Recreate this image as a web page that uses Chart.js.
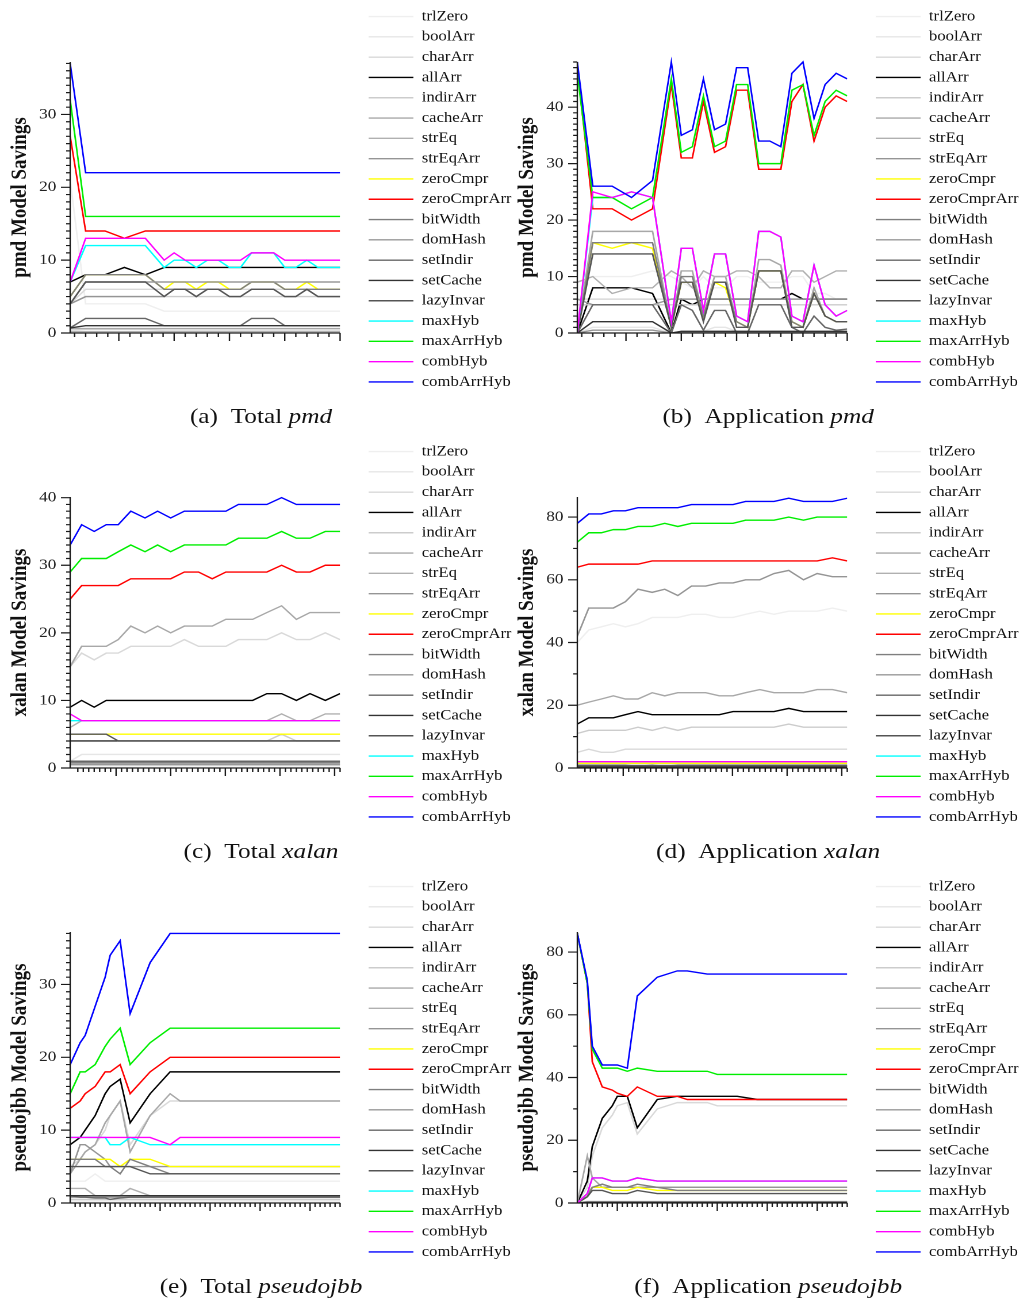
<!DOCTYPE html>
<html>
<head>
<meta charset="utf-8">
<script src="https://cdn.jsdelivr.net/npm/chart.js@4.4.1/dist/chart.umd.min.js"></script>
<style>
  html, body { margin: 0; padding: 0; background: #fff; overflow: hidden; }
  /* the whole figure is a bit wider than tall, so draw narrow and stretch */
  #page { position: relative; width: 892px; height: 1305px; transform: scaleX(1.15); transform-origin: 0 0; }
  .panel { position: absolute; width: 470px; height: 435px; }
  .panel canvas { position: absolute; left: 0; top: 0; }
  .cap { position: absolute; left: 0; width: 454px; top: 404px; text-align: center;
         font: 22px "Liberation Serif", serif; line-height: 24px; color: #111; }
</style>
</head>
<body>
<div id="page"></div>
<script>
// series, in legend order
const seriesNames = ['trlZero', 'boolArr', 'charArr', 'allArr', 'indirArr', 'cacheArr', 'strEq', 'strEqArr',
  'zeroCmpr', 'zeroCmprArr', 'bitWidth', 'domHash', 'setIndir', 'setCache', 'lazyInvar',
  'maxHyb', 'maxArrHyb', 'combHyb', 'combArrHyb'];
const seriesColors = ['#efefef', '#e6e6e6', '#d9d9d9', '#000000', '#cccccc', '#a8a8a8', '#b0b0b0', '#959595',
  '#ffff00', '#ff0000', '#7f7f7f', '#999999', '#666666', '#333333', '#555555',
  '#00ffff', '#00ee00', '#ff00ff', '#0000ff'];

// x positions of the samples
const pmdX = [0.6, 2, 3.75, 5.5, 7.4, 9.1, 10, 11, 12, 13, 14, 15, 16, 17, 18, 19, 20, 21, 22, 23, 24, 25];
const xalanX = [1.6, 3.7, 6.0, 8.2, 10.4, 12.7, 15.3, 17.6, 20.0, 22.5, 25.1, 27.6, 30.1, 32.4, 35.0, 37.6, 40.3, 43.0, 45.5, 48.3, 51.0];
const pseudojbbX = [2, 4, 5, 7, 9, 10, 12, 14, 18, 22, 24, 28, 30, 34, 38, 56];

const pmdTotal = [
  [21, 4, 4, 4, 4, 3, 3, 3, 3, 3, 3, 3, 3, 3, 3, 3, 3, 3, 3, 3, 3, 3],
  [0.3, 0.5, 0.5, 0.5, 0.5, 0.3, 0.3, 0.3, 0.3, 0.3, 0.3, 0.3, 0.3, 0.3, 0.3, 0.3, 0.3, 0.3, 0.3, 0.3, 0.3, 0.3],
  [4, 6, 6, 6, 6, 6, 6, 6, 6, 6, 6, 6, 6, 6, 6, 6, 6, 6, 6, 6, 6, 6],
  [7, 8, 8, 9, 8, 9, 9, 9, 9, 9, 9, 9, 9, 9, 9, 9, 9, 9, 9, 9, 9, 9],
  [4, 5, 5, 5, 5, 5, 5, 5, 5, 5, 5, 5, 5, 5, 5, 5, 5, 5, 5, 5, 5, 5],
  [0.6, 0.6, 0.6, 0.6, 0.6, 0.6, 0.6, 0.6, 0.6, 0.6, 0.6, 0.6, 0.6, 0.6, 0.6, 0.6, 0.6, 0.6, 0.6, 0.6, 0.6, 0.6],
  [0.2, 0.2, 0.2, 0.2, 0.2, 0.2, 0.2, 0.2, 0.2, 0.2, 0.2, 0.2, 0.2, 0.2, 0.2, 0.2, 0.2, 0.2, 0.2, 0.2, 0.2, 0.2],
  [4, 5, 5, 5, 5, 5, 6, 6, 5, 6, 6, 5, 5, 6, 6, 6, 5, 5, 6, 5, 5, 5],
  [5, 8, 8, 8, 8, 6, 7, 7, 6, 7, 7, 6, 6, 7, 7, 7, 6, 6, 7, 6, 6, 6],
  [27, 14, 14, 13, 14, 14, 14, 14, 14, 14, 14, 14, 14, 14, 14, 14, 14, 14, 14, 14, 14, 14],
  [5, 8, 8, 8, 8, 6, 6, 6, 6, 6, 6, 6, 6, 7, 7, 7, 6, 6, 6, 6, 6, 6],
  [4, 7, 7, 7, 7, 7, 7, 7, 7, 7, 7, 7, 7, 7, 7, 7, 7, 7, 7, 7, 7, 7],
  [0.7, 2, 2, 2, 2, 1, 1, 1, 1, 1, 1, 1, 1, 2, 2, 2, 1, 1, 1, 1, 1, 1],
  [0.7, 1, 1, 1, 1, 1, 1, 1, 1, 1, 1, 1, 1, 1, 1, 1, 1, 1, 1, 1, 1, 1],
  [4, 7, 7, 7, 7, 5, 6, 6, 5, 6, 6, 5, 5, 6, 6, 6, 5, 5, 6, 5, 5, 5],
  [7, 12, 12, 12, 12, 9, 10, 10, 9, 10, 10, 9, 9, 11, 11, 11, 9, 9, 10, 9, 9, 9],
  [32, 16, 16, 16, 16, 16, 16, 16, 16, 16, 16, 16, 16, 16, 16, 16, 16, 16, 16, 16, 16, 16],
  [7, 13, 13, 13, 13, 10, 11, 10, 10, 10, 10, 10, 10, 11, 11, 11, 10, 10, 10, 10, 10, 10],
  [37, 22, 22, 22, 22, 22, 22, 22, 22, 22, 22, 22, 22, 22, 22, 22, 22, 22, 22, 22, 22, 22]
];

const pmdApp = [
  [9, 10, 10, 10, 11, 10, 9, 8, 10, 8, 8, 10, 10, 9, 9, 9, 10, 10, 7, 7, 6, 6],
  [0, 1, 1, 1, 1, 0, 0.3, 0.3, 0.3, 1, 1, 0.3, 0.3, 0.3, 0.3, 0.3, 0.3, 0.3, 0.3, 0.3, 0.3, 0.3],
  [6, 6, 6, 6, 6, 6, 6, 6, 6, 6, 6, 6, 6, 6, 6, 6, 6, 6, 6, 6, 6, 6],
  [0, 8, 8, 8, 7, 0, 6, 5, 6, 6, 6, 6, 6, 6, 6, 6, 7, 6, 6, 6, 6, 6],
  [5, 5, 5, 5, 5, 5, 5, 5, 5, 5, 5, 5, 5, 5, 5, 5, 5, 5, 5, 5, 5, 5],
  [0, 18, 18, 18, 18, 1, 11, 11, 3, 10, 10, 2, 1, 13, 13, 12, 2, 1, 8, 3, 2, 2],
  [9, 10, 7, 8, 8, 11, 10, 8, 11, 10, 10, 11, 11, 10, 8, 8, 11, 11, 9, 10, 11, 11],
  [0, 0.5, 0.5, 0.5, 0.5, 0, 0.2, 0.2, 0.2, 0.2, 0.2, 0.2, 0.2, 0.2, 0.2, 0.2, 0.2, 0.2, 0.2, 0.2, 0.2, 0.2],
  [0, 16, 15, 16, 15, 1, 9, 9, 3, 9, 8, 2, 1, 11, 11, 11, 2, 1, 7, 3, 2, 2],
  [47, 22, 22, 20, 22, 44, 31, 31, 41, 32, 33, 43, 43, 29, 29, 29, 41, 44, 34, 40, 42, 41],
  [0, 16, 16, 16, 16, 1, 10, 10, 3, 9, 9, 2, 1, 11, 11, 11, 2, 1, 7, 3, 2, 2],
  [6, 5, 5, 5, 5, 6, 6, 6, 6, 6, 6, 6, 6, 6, 6, 6, 6, 6, 6, 6, 6, 6],
  [0, 5, 5, 5, 5, 0, 5, 4, 0.5, 4, 4, 0, 0, 5, 5, 5, 1, 0, 3, 1, 0.5, 0.7],
  [0, 2, 2, 2, 2, 0, 0.3, 0.3, 0.3, 0.3, 0.3, 0.3, 0.3, 0.3, 0.3, 0.3, 0.3, 0.3, 0.3, 0.3, 0.3, 0.3],
  [0, 14, 14, 14, 14, 1, 9, 9, 2, 9, 9, 1, 1, 11, 11, 11, 1, 1, 7, 3, 2, 2],
  [0, 24, 24, 25, 24, 2, 15, 15, 4, 14, 14, 3, 2, 18, 18, 17, 3, 2, 12, 5, 3, 4],
  [46, 24, 24, 22, 24, 45, 32, 33, 42, 33, 34, 44, 44, 30, 30, 30, 43, 44, 35, 41, 43, 42],
  [0, 25, 24, 25, 24, 2, 15, 15, 4, 14, 14, 3, 2, 18, 18, 17, 3, 2, 12, 5, 3, 4],
  [48, 26, 26, 24, 27, 48, 35, 36, 45, 36, 37, 47, 47, 34, 34, 33, 46, 48, 38, 44, 46, 45]
];

const xalanTotal = [
  [0.3, 0.3, 0.3, 0.3, 0.3, 0.3, 0.3, 0.3, 0.3, 0.3, 0.3, 0.3, 0.3, 0.3, 0.3, 0.3, 0.3, 0.3, 0.3, 0.3, 0.3],
  [1, 2, 2, 2, 2, 2, 2, 2, 2, 2, 2, 2, 2, 2, 2, 2, 2, 2, 2, 2, 2],
  [15, 17, 16, 17, 17, 18, 18, 18, 18, 19, 18, 18, 18, 19, 19, 19, 20, 19, 19, 20, 19],
  [9, 10, 9, 10, 10, 10, 10, 10, 10, 10, 10, 10, 10, 10, 10, 11, 11, 10, 11, 10, 11],
  [4, 4, 4, 4, 4, 4, 4, 4, 4, 4, 4, 4, 4, 4, 4, 4, 5, 4, 4, 4, 4],
  [15, 18, 18, 18, 19, 21, 20, 21, 20, 21, 21, 21, 22, 22, 22, 23, 24, 22, 23, 23, 23],
  [6, 7, 7, 7, 7, 7, 7, 7, 7, 7, 7, 7, 7, 7, 7, 7, 8, 7, 7, 8, 8],
  [0.5, 0.5, 0.5, 0.5, 0.5, 0.5, 0.5, 0.5, 0.5, 0.5, 0.5, 0.5, 0.5, 0.5, 0.5, 0.5, 0.5, 0.5, 0.5, 0.5, 0.5],
  [5, 5, 5, 5, 5, 5, 5, 5, 5, 5, 5, 5, 5, 5, 5, 5, 5, 5, 5, 5, 5],
  [25, 27, 27, 27, 27, 28, 28, 28, 28, 29, 29, 28, 29, 29, 29, 29, 30, 29, 29, 30, 30],
  [0.8, 0.8, 0.8, 0.8, 0.8, 0.8, 0.8, 0.8, 0.8, 0.8, 0.8, 0.8, 0.8, 0.8, 0.8, 0.8, 0.8, 0.8, 0.8, 0.8, 0.8],
  [0.6, 0.6, 0.6, 0.6, 0.6, 0.6, 0.6, 0.6, 0.6, 0.6, 0.6, 0.6, 0.6, 0.6, 0.6, 0.6, 0.6, 0.6, 0.6, 0.6, 0.6],
  [1, 1, 1, 1, 1, 1, 1, 1, 1, 1, 1, 1, 1, 1, 1, 1, 1, 1, 1, 1, 1],
  [4, 4, 4, 4, 4, 4, 4, 4, 4, 4, 4, 4, 4, 4, 4, 4, 4, 4, 4, 4, 4],
  [5, 5, 5, 5, 4, 4, 4, 4, 4, 4, 4, 4, 4, 4, 4, 4, 4, 4, 4, 4, 4],
  [7, 7, 7, 7, 7, 7, 7, 7, 7, 7, 7, 7, 7, 7, 7, 7, 7, 7, 7, 7, 7],
  [29, 31, 31, 31, 32, 33, 32, 33, 32, 33, 33, 33, 33, 34, 34, 34, 35, 34, 34, 35, 35],
  [8, 7, 7, 7, 7, 7, 7, 7, 7, 7, 7, 7, 7, 7, 7, 7, 7, 7, 7, 7, 7],
  [33, 36, 35, 36, 36, 38, 37, 38, 37, 38, 38, 38, 38, 39, 39, 39, 40, 39, 39, 39, 39]
];

const xalanApp = [
  [40, 44, 45, 46, 45, 46, 48, 48, 48, 49, 49, 48, 48, 49, 50, 49, 50, 50, 50, 51, 50],
  [0.3, 0.3, 0.3, 0.3, 0.3, 0.3, 0.3, 0.3, 0.3, 0.3, 0.3, 0.3, 0.3, 0.3, 0.3, 0.3, 0.3, 0.3, 0.3, 0.3, 0.3],
  [5, 6, 5, 5, 6, 6, 6, 6, 6, 6, 6, 6, 6, 6, 6, 6, 6, 6, 6, 6, 6],
  [14, 16, 16, 16, 17, 18, 17, 17, 17, 17, 17, 17, 18, 18, 18, 18, 19, 18, 18, 18, 18],
  [11, 12, 12, 12, 12, 13, 12, 13, 12, 13, 13, 13, 13, 13, 13, 13, 14, 13, 13, 13, 13],
  [20, 21, 22, 23, 22, 22, 24, 23, 24, 24, 24, 23, 23, 24, 25, 24, 24, 24, 25, 25, 24],
  [1, 1, 1, 1, 1, 0.5, 1, 0.5, 1, 1, 1, 1, 1, 1, 1, 1, 1, 1, 1, 1, 1],
  [42, 51, 51, 51, 53, 57, 56, 57, 55, 58, 58, 59, 59, 60, 60, 62, 63, 60, 62, 61, 61],
  [1.5, 1.5, 1.5, 1.5, 1.5, 1.5, 1.5, 1.5, 1.5, 1.5, 1.5, 1.5, 1.5, 1.5, 1.5, 1.5, 1.5, 1.5, 1.5, 1.5, 1.5],
  [64, 65, 65, 65, 65, 65, 66, 66, 66, 66, 66, 66, 66, 66, 66, 66, 66, 66, 66, 67, 66],
  [0.8, 0.8, 0.8, 0.8, 0.8, 0.8, 0.8, 0.8, 0.8, 0.8, 0.8, 0.8, 0.8, 0.8, 0.8, 0.8, 0.8, 0.8, 0.8, 0.8, 0.8],
  [0.5, 0.5, 0.5, 0.5, 0.5, 0.5, 0.5, 0.5, 0.5, 0.5, 0.5, 0.5, 0.5, 0.5, 0.5, 0.5, 0.5, 0.5, 0.5, 0.5, 0.5],
  [0.6, 0.6, 0.6, 0.6, 0.6, 0.6, 0.6, 0.6, 0.6, 0.6, 0.6, 0.6, 0.6, 0.6, 0.6, 0.6, 0.6, 0.6, 0.6, 0.6, 0.6],
  [0.3, 0.3, 0.3, 0.3, 0.3, 0.3, 0.3, 0.3, 0.3, 0.3, 0.3, 0.3, 0.3, 0.3, 0.3, 0.3, 0.3, 0.3, 0.3, 0.3, 0.3],
  [0.7, 0.7, 0.7, 0.7, 0.7, 0.7, 0.7, 0.7, 0.7, 0.7, 0.7, 0.7, 0.7, 0.7, 0.7, 0.7, 0.7, 0.7, 0.7, 0.7, 0.7],
  [2, 2, 2, 2, 2, 2, 2, 2, 2, 2, 2, 2, 2, 2, 2, 2, 2, 2, 2, 2, 2],
  [72, 75, 75, 76, 76, 77, 77, 78, 77, 78, 78, 78, 78, 79, 79, 79, 80, 79, 80, 80, 80],
  [2, 2, 2, 2, 2, 2, 2, 2, 2, 2, 2, 2, 2, 2, 2, 2, 2, 2, 2, 2, 2],
  [78, 81, 81, 82, 82, 83, 83, 83, 83, 84, 84, 84, 84, 85, 85, 85, 86, 85, 85, 85, 86]
];

const pseudojbbTotal = [
  [3, 3, 3, 4, 3, 3, 3, 3, 3, 3, 3, 3, 3, 3, 3, 3],
  [0.3, 0.3, 0.3, 0.3, 0.3, 0.3, 0.3, 0.3, 0.3, 0.3, 0.3, 0.3, 0.3, 0.3, 0.3, 0.3],
  [5, 6, 7, 8, 10, 12, 14, 8, 12, 14, 14, 14, 14, 14, 14, 14],
  [8, 9, 10, 12, 15, 16, 17, 11, 15, 18, 18, 18, 18, 18, 18, 18],
  [0.5, 0.5, 0.5, 0.5, 0.5, 0.5, 0.5, 0.5, 0.5, 0.5, 0.5, 0.5, 0.5, 0.5, 0.5, 0.5],
  [4, 6, 7, 8, 11, 12, 14, 7, 12, 15, 14, 14, 14, 14, 14, 14],
  [2, 2, 2, 1, 1, 1, 1, 2, 1, 1, 1, 1, 1, 1, 1, 1],
  [4, 8, 8, 7, 6, 5, 5, 5, 5, 5, 5, 5, 5, 5, 5, 5],
  [6, 6, 6, 6, 6, 6, 5, 6, 6, 5, 5, 5, 5, 5, 5, 5],
  [13, 14, 15, 16, 18, 18, 19, 15, 18, 20, 20, 20, 20, 20, 20, 20],
  [6, 6, 6, 6, 5, 5, 4, 6, 5, 4, 4, 4, 4, 4, 4, 4],
  [0.8, 0.8, 0.8, 0.8, 0.8, 0.8, 0.8, 0.8, 0.8, 0.8, 0.8, 0.8, 0.8, 0.8, 0.8, 0.8],
  [1, 0.8, 0.8, 0.7, 0.7, 0.5, 0.7, 0.8, 0.8, 0.8, 0.8, 0.8, 0.8, 0.8, 0.8, 0.8],
  [1, 1, 1, 1, 1, 1, 1, 1, 1, 1, 1, 1, 1, 1, 1, 1],
  [5, 5, 5, 5, 5, 5, 5, 5, 4, 4, 4, 4, 4, 4, 4, 4],
  [9, 9, 9, 9, 9, 8, 8, 9, 8, 8, 8, 8, 8, 8, 8, 8],
  [15, 18, 18, 19, 21.5, 22.5, 24, 19, 22, 24, 24, 24, 24, 24, 24, 24],
  [9, 9, 9, 9, 9, 9, 9, 9, 9, 8, 9, 9, 9, 9, 9, 9],
  [19, 22, 23, 27, 31, 34, 36, 26, 33, 37, 37, 37, 37, 37, 37, 37]
];

const pseudojbbApp = [
  [0, 0.3, 0.3, 0.3, 0.3, 0.3, 0.3, 0.3, 0.3, 0.3, 0.3, 0.3, 0.3, 0.3, 0.3, 0.3],
  [0, 0.2, 0.2, 0.2, 0.2, 0.2, 0.2, 0.2, 0.2, 0.2, 0.2, 0.2, 0.2, 0.2, 0.2, 0.2],
  [0, 5, 15, 24, 28, 31, 32, 22, 30, 32, 32, 32, 31, 31, 31, 31],
  [0, 7, 18, 27, 31, 34, 34, 24, 33, 34, 34, 34, 34, 34, 33, 33],
  [0, 0.5, 0.5, 0.5, 0.5, 0.5, 0.5, 0.5, 0.5, 0.5, 0.5, 0.5, 0.5, 0.5, 0.5, 0.5],
  [0, 15, 8, 5, 5, 5, 5, 5, 5, 5, 5, 5, 5, 5, 5, 5],
  [0, 0.3, 0.3, 0.3, 0.3, 0.3, 0.3, 0.3, 0.3, 0.3, 0.3, 0.3, 0.3, 0.3, 0.3, 0.3],
  [0, 3, 5, 5, 5, 5, 5, 5, 5, 5, 5, 5, 5, 5, 5, 5],
  [0, 2, 5, 5, 4, 4, 4, 5, 4, 4, 4, 4, 4, 4, 4, 4],
  [86, 70, 45, 37, 36, 35, 34, 37, 34, 34, 33, 33, 33, 33, 33, 33],
  [0, 2, 5, 6, 5, 5, 5, 6, 5, 4, 4, 4, 4, 4, 4, 4],
  [0, 0.3, 0.3, 0.3, 0.3, 0.3, 0.3, 0.3, 0.3, 0.3, 0.3, 0.3, 0.3, 0.3, 0.3, 0.3],
  [0, 0.2, 0.2, 0.2, 0.2, 0.2, 0.2, 0.2, 0.2, 0.2, 0.2, 0.2, 0.2, 0.2, 0.2, 0.2],
  [0, 0.2, 0.2, 0.2, 0.2, 0.2, 0.2, 0.2, 0.2, 0.2, 0.2, 0.2, 0.2, 0.2, 0.2, 0.2],
  [0, 2, 4, 4, 3, 3, 3, 4, 3, 3, 3, 3, 3, 3, 3, 3],
  [0, 3, 8, 8, 7, 7, 7, 8, 7, 7, 7, 7, 7, 7, 7, 7],
  [86, 70, 49, 43, 43, 43, 42, 43, 42, 42, 42, 42, 41, 41, 41, 41],
  [0, 3, 8, 8, 7, 7, 7, 8, 7, 7, 7, 7, 7, 7, 7, 7],
  [86, 71, 50, 44, 44, 44, 43, 66, 72, 74, 74, 73, 73, 73, 73, 73]
];

const captionTags = ['(a)', '(b)', '(c)', '(d)', '(e)', '(f)'];
const captionKinds = ['Total', 'Application', 'Total', 'Application', 'Total', 'Application'];
const benchNames = ['pmd', 'pmd', 'xalan', 'xalan', 'pseudojbb', 'pseudojbb'];

const panels = [
  { rows: pmdTotal, xs: pmdX, xMin: 0.6, xMax: 25, xMajor: 5, yTop: 37.2, yMinor: 1, yMajor: 10 },
  { rows: pmdApp, xs: pmdX, xMin: 0.6, xMax: 25, xMajor: 5, yTop: 48, yMinor: 1, yMajor: 10 },
  { rows: xalanTotal, xs: xalanX, xMin: 1.6, xMax: 51, xMajor: 10, yTop: 40.1, yMinor: 1, yMajor: 10 },
  { rows: xalanApp, xs: xalanX, xMin: 1.6, xMax: 51, xMajor: 10, yTop: 86.4, yMinor: 10, yMajor: 20 },
  { rows: pseudojbbTotal, xs: pseudojbbX, xMin: 2, xMax: 56, xMajor: 10, yTop: 37.2, yMinor: 1, yMajor: 10 },
  { rows: pseudojbbApp, xs: pseudojbbX, xMin: 2, xMax: 56, xMajor: 10, yTop: 86.4, yMinor: 10, yMajor: 20 }
];

const W = 470, H = 400;
const AREA_TOP = 3.5, AXIS_TOP = 62, AXIS_BOTTOM = 333;
const serif = '"Liberation Serif", "Times New Roman", serif';

// axis lines, tick marks and the rotated axis title
const framePlugin = {
  id: 'frame',
  afterDatasetsDraw(chart, args, o) {
    const { ctx, chartArea: area, scales: { x, y } } = chart;
    const x0 = area.left;
    const y0 = y.getPixelForValue(0);
    const yEnd = y.getPixelForValue(o.yTop);
    ctx.save();
    ctx.strokeStyle = '#1a1a1a';
    ctx.lineWidth = 1.2;
    ctx.beginPath();
    ctx.moveTo(x0, yEnd);
    ctx.lineTo(x0, y0);
    ctx.lineTo(area.right, y0);
    for (let k = 0; k * o.yMinor <= o.yTop + 1e-9; k++) {
      const v = k * o.yMinor;
      const py = y.getPixelForValue(v);
      const len = Math.abs(v % o.yMajor) < 1e-6 ? 8 : 3.5;
      ctx.moveTo(x0 - len, py);
      ctx.lineTo(x0, py);
    }
    for (let v = Math.floor(x.min) + 1; v <= x.max + 1e-9; v++) {
      const px = x.getPixelForValue(v);
      if (px - x0 < 3) continue;
      const len = v % o.xMajor === 0 ? 8 : 4;
      ctx.moveTo(px, y0);
      ctx.lineTo(px, y0 + len);
    }
    ctx.stroke();
    ctx.fillStyle = '#111';
    ctx.font = 'bold 19px ' + serif;
    ctx.textAlign = 'center';
    ctx.textBaseline = 'middle';
    ctx.translate(17.4, (y0 + yEnd) / 2);
    ctx.rotate(-Math.PI / 2);
    ctx.fillText(o.title, 0, 0);
    ctx.restore();
  }
};

const page = document.getElementById('page');

panels.forEach((p, n) => {
  const box = document.createElement('div');
  box.className = 'panel';
  box.style.left = (n % 2 ? 441 : 0) + 'px';
  box.style.top = (Math.floor(n / 2) * 435) + 'px';
  const canvas = document.createElement('canvas');
  canvas.width = W;
  canvas.height = H;
  box.appendChild(canvas);
  const cap = document.createElement('div');
  cap.className = 'cap';
  cap.innerHTML = captionTags[n] + '&ensp;' + captionKinds[n] + ' <i>' + benchNames[n] + '</i>';
  box.appendChild(cap);
  page.appendChild(box);

  const yMax = p.yTop * (AXIS_BOTTOM - AREA_TOP) / (AXIS_BOTTOM - AXIS_TOP);

  new Chart(canvas.getContext('2d'), {
    type: 'line',
    data: {
      datasets: seriesNames.map((name, i) => ({
        label: name,
        data: p.xs.map((xv, k) => ({ x: xv, y: p.rows[i][k] })),
        borderColor: seriesColors[i],
        backgroundColor: seriesColors[i],
        borderWidth: 1.4,
        pointRadius: 0,
        tension: 0,
        order: -i
      }))
    },
    options: {
      responsive: false,
      animation: false,
      devicePixelRatio: 2,
      layout: { autoPadding: false, padding: { top: AREA_TOP, right: W - 444.7, bottom: 0, left: 0 } },
      scales: {
        x: {
          type: 'linear', min: p.xMin, max: p.xMax,
          grid: { display: false, drawTicks: false },
          border: { display: false },
          ticks: { display: false, stepSize: 1 },
          afterFit: s => { s.height = H - AXIS_BOTTOM; }
        },
        y: {
          type: 'linear', min: 0, max: yMax,
          grid: { display: false, drawTicks: false },
          border: { display: false },
          ticks: {
            stepSize: p.yMajor, includeBounds: false, padding: 12,
            color: '#222', font: { family: serif, size: 15 }
          },
          afterBuildTicks: s => { s.ticks = s.ticks.filter(t => t.value <= p.yTop + 1e-6); },
          afterFit: s => { s.width = 61; s.paddingTop = 0; s.paddingBottom = 0; }
        },
        gap: {
          type: 'linear', position: 'right',
          grid: { display: false, drawTicks: false },
          border: { display: false },
          ticks: { display: false },
          afterFit: s => { s.width = 19; s.paddingTop = 0; s.paddingBottom = 0; }
        }
      },
      plugins: {
        tooltip: { enabled: false },
        legend: {
          position: 'right',
          align: 'start',
          maxWidth: 130,
          labels: {
            usePointStyle: true,
            pointStyle: 'line',
            pointStyleWidth: 39,
            padding: 5.8,
            color: '#111',
            font: { family: serif, size: 14.5 },
            sort: (a, b) => a.datasetIndex - b.datasetIndex
          }
        },
        frame: {
          yTop: p.yTop, yMinor: p.yMinor, yMajor: p.yMajor, xMajor: p.xMajor,
          title: benchNames[n] + ' Model Savings'
        }
      }
    },
    plugins: [framePlugin]
  });
});
</script>
</body>
</html>
